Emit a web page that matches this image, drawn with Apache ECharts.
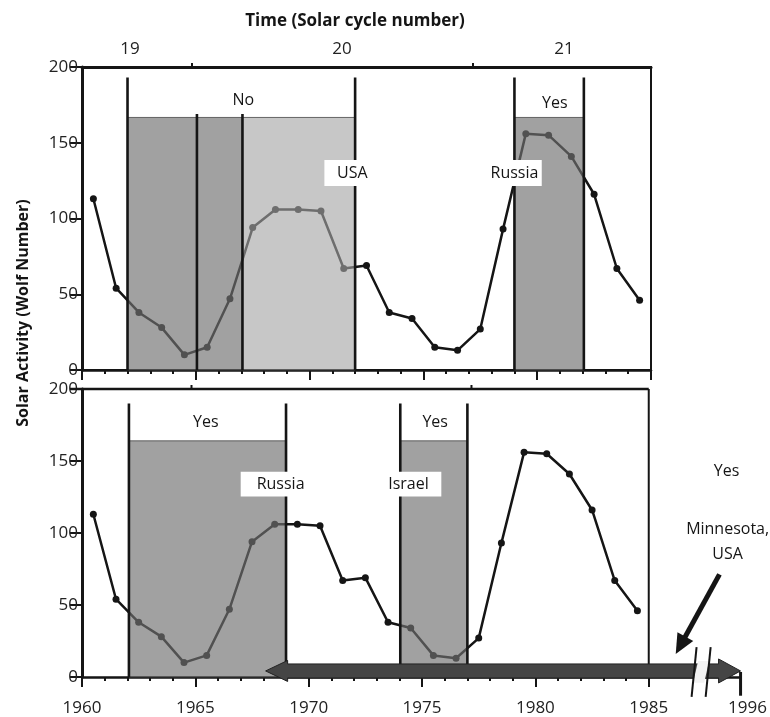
<!DOCTYPE html>
<html>
<head>
<meta charset="utf-8">
<script src="https://cdn.jsdelivr.net/npm/echarts@6/dist/echarts.min.js"></script>
<style>
  html, body { margin: 0; padding: 0; background: #fff; }
  #chart { width: 770px; height: 717px; }
</style>
</head>
<body>
<div id="chart"></div>
<script>
// ---- data ----
const years = [1960.5, 1961.5, 1962.5, 1963.5, 1964.5, 1965.5, 1966.5, 1967.5, 1968.5, 1969.5,
               1970.5, 1971.5, 1972.5, 1973.5, 1974.5, 1975.5, 1976.5, 1977.5, 1978.5, 1979.5,
               1980.5, 1981.5, 1982.5, 1983.5, 1984.5];
const wolf = [113, 54, 38, 28, 10, 15, 47, 94, 106, 106,
              105, 67, 69, 38, 34, 15, 13, 27, 93, 156,
              155, 141, 116, 67, 46];
const majorYears = [1960, 1965, 1970, 1975, 1980, 1985];
const allYears = [1960, 1961, 1962, 1963, 1964, 1965, 1966, 1967, 1968, 1969, 1970, 1971, 1972,
                  1973, 1974, 1975, 1976, 1977, 1978, 1979, 1980, 1981, 1982, 1983, 1984, 1985];
const yTicks = [0, 50, 100, 150, 200];
const cycleNames = ['19', '20', '21'];
const cyclePos = [1962.11, 1971.42, 1981.18];
const cycleBounds = [1964.83, 1977.18];
const BROKEN_END = 1989.05;      // position of the broken-axis end tick
const BROKEN_LABEL = '1996';

// shaded periods: [start, end, top, tone]
const topShades = [[1962.0, 1967.05, 166.7, 'dark'], [1967.05, 1972.0, 166.7, 'light'], [1979.0, 1982.05, 166.7, 'dark']];
const bottomShades = [[1962.07, 1969.0, 164, 'dark'], [1974.04, 1977.0, 164, 'dark']];
// dividers: [x, top]
const topDividers = [[1962.0, 193], [1965.05, 169], [1967.05, 169], [1972.0, 193], [1979.0, 193], [1982.05, 193]];
const bottomDividers = [[1962.07, 190], [1969.0, 190], [1974.04, 190], [1977.0, 190]];
// labels: [text, x, y]
const topLabels = [['No', 1967.09, 178], ['Yes', 1980.77, 176]];
const bottomLabels = [['Yes', 1965.46, 176.5], ['Yes', 1975.58, 176.5]];
// boxed labels: [text, x0, x1, y0, y1, textX]
const topBoxes = [['USA', 1970.65, 1972.76, 121.5, 138.6, 1971.88], ['Russia', 1977.43, 1980.2, 121.5, 138.6, 1979.0]];
const bottomBoxes = [['Russia', 1967.0, 1969.9, 125.3, 142.6, 1968.76], ['Israel', 1973.25, 1975.85, 125.3, 142.6, 1974.4]];
// broken-axis annotation (bottom panel)
const longArrow = [1968.1, BROKEN_END, 4.2];         // from, to, centre value
const breakMarks = [[1987.11, 1986.89], [1987.73, 1987.51]]; // x at top, x at bottom
const breakSpan = [20.8, -13.8];
const pointer = [[1988.12, 71.3], [1986.19, 15.9]];
const sideTexts = [['Yes', 1988.43, 142.6], ['Minnesota,', 1988.48, 102.4], ['USA', 1988.48, 85]];

// ---- styles ----
const FONT = '"Open Sans", "Noto Sans", sans-serif';
const INK = '#151515';
const SHADE = { dark: 'rgba(112,112,112,0.66)', light: 'rgba(165,165,165,0.62)' };

function rectBetween(api, x0, y0, x1, y1) {
  const a = api.coord([x0, y1]);
  const b = api.coord([x1, y0]);
  return { x: a[0], y: a[1], width: b[0] - a[0], height: b[1] - a[1] };
}
function textEl(x, y, text, size, weight) {
  return { type: 'text', x: x, y: y,
    style: { text: text, fill: INK, font: (weight || 'normal') + ' ' + size + 'px ' + FONT,
             align: 'center', verticalAlign: 'middle', textAlign: 'center', textVerticalAlign: 'middle' } };
}

function shadeSeries(shades, xi, yi) {
  return { type: 'custom', xAxisIndex: xi, yAxisIndex: yi, z: 3, silent: true, clip: false,
    data: shades.map(s => [s[0], s[2]]),
    renderItem: function (params, api) {
      const s = shades[params.dataIndex];
      return { type: 'rect', shape: rectBetween(api, s[0], 0, s[1], s[2]),
               style: { fill: SHADE[s[3]], stroke: 'rgba(70,70,70,0.8)', lineWidth: 1 } };
    } };
}
function dividerSeries(divs, xi, yi) {
  return { type: 'custom', xAxisIndex: xi, yAxisIndex: yi, z: 4, silent: true, clip: false,
    data: divs.map(d => [d[0], d[1]]),
    renderItem: function (params, api) {
      const d = divs[params.dataIndex];
      const a = api.coord([d[0], 0]), b = api.coord([d[0], d[1]]);
      return { type: 'line', shape: { x1: a[0], y1: a[1], x2: b[0], y2: b[1] },
               style: { stroke: INK, lineWidth: 2.6 } };
    } };
}
function labelSeries(labels, boxes, xi, yi) {
  return { type: 'custom', xAxisIndex: xi, yAxisIndex: yi, z: 5, silent: true, clip: false,
    data: [[0, 0]],
    renderItem: function (params, api) {
      const children = [];
      labels.forEach(l => { const p = api.coord([l[1], l[2]]); children.push(textEl(p[0], p[1], l[0], 16)); });
      boxes.forEach(b => {
        children.push({ type: 'rect', shape: rectBetween(api, b[1], b[3], b[2], b[4]), style: { fill: '#fff' } });
        const p = api.coord([b[5], (b[3] + b[4]) / 2]);
        children.push(textEl(p[0], p[1], b[0], 16));
      });
      return { type: 'group', children: children };
    } };
}

function bottomExtras() {
  return { type: 'custom', xAxisIndex: 3, yAxisIndex: 1, z: 6, silent: true, clip: false,
    data: [[0, 0]],
    renderItem: function (params, api) {
      const ch = [];
      // panel frame (top and right edge at 1985)
      const tl = api.coord([1960, 200]), tr = api.coord([1985, 200]), br = api.coord([1985, 0]);
      ch.push({ type: 'line', shape: { x1: tl[0] - 12, y1: tl[1], x2: tr[0], y2: tr[1] }, style: { stroke: INK, lineWidth: 2.4 } });
      ch.push({ type: 'line', shape: { x1: tr[0], y1: tr[1], x2: br[0], y2: br[1] }, style: { stroke: INK, lineWidth: 2 } });
      cycleBounds.forEach(c => { const p = api.coord([c, 200]);
        ch.push({ type: 'line', shape: { x1: p[0], y1: p[1], x2: p[0], y2: p[1] - 4 }, style: { stroke: INK, lineWidth: 2 } }); });
      // long double arrow
      const L = api.coord([longArrow[0], longArrow[2]]), R = api.coord([longArrow[1], longArrow[2]]);
      const cy = L[1], sh = 7, hh = 10.5, hl = 22;
      ch.push({ type: 'polygon', shape: { points: [
        [L[0], cy], [L[0] + hl, cy - hh], [L[0] + hl, cy - sh], [R[0] - hl, cy - sh], [R[0] - hl, cy - hh - 1.5],
        [R[0], cy], [R[0] - hl, cy + hh + 1.5], [R[0] - hl, cy + sh], [L[0] + hl, cy + sh], [L[0] + hl, cy + hh]] },
        style: { fill: '#454545', stroke: '#222', lineWidth: 1 } });
      // break marks
      const b0t = api.coord([breakMarks[0][0], breakSpan[0]]), b0b = api.coord([breakMarks[0][1], breakSpan[1]]);
      const b1t = api.coord([breakMarks[1][0], breakSpan[0]]), b1b = api.coord([breakMarks[1][1], breakSpan[1]]);
      ch.push({ type: 'polygon', shape: { points: [[b0t[0] + 1.5, b0t[1] + 14], [b1t[0] - 1.5, b1t[1] + 14], [b1b[0] - 1.5, b1b[1] - 14], [b0b[0] + 1.5, b0b[1] - 14]] },
        style: { fill: '#f2f2f2' } });
      ch.push({ type: 'line', shape: { x1: b0t[0], y1: b0t[1], x2: b0b[0], y2: b0b[1] }, style: { stroke: INK, lineWidth: 2 } });
      ch.push({ type: 'line', shape: { x1: b1t[0], y1: b1t[1], x2: b1b[0], y2: b1b[1] }, style: { stroke: INK, lineWidth: 2 } });
      // end tick at broken axis end
      const et = api.coord([BROKEN_END, 3.5]), eb = api.coord([BROKEN_END, -13]);
      ch.push({ type: 'line', shape: { x1: et[0], y1: et[1], x2: eb[0], y2: eb[1] }, style: { stroke: INK, lineWidth: 3 } });
      // pointer arrow
      const P = api.coord(pointer[0]), T = api.coord(pointer[1]);
      const dx = T[0] - P[0], dy = T[1] - P[1], len = Math.sqrt(dx * dx + dy * dy);
      const ux = dx / len, uy = dy / len, px = -uy, py = ux;
      const hL = 20, hW = 9;
      const Bx = T[0] - ux * hL, By = T[1] - uy * hL;
      ch.push({ type: 'line', shape: { x1: P[0], y1: P[1], x2: Bx + ux * 2, y2: By + uy * 2 }, style: { stroke: INK, lineWidth: 5 } });
      ch.push({ type: 'polygon', shape: { points: [[T[0], T[1]], [Bx + px * hW, By + py * hW], [Bx - px * hW, By - py * hW]] }, style: { fill: INK } });
      // side texts
      sideTexts.forEach(t => { const p = api.coord([t[1], t[2]]); ch.push(textEl(p[0], p[1], t[0], 16)); });
      return { type: 'group', children: ch };
    } };
}

const axisLabelStyle = { fontSize: 17, color: '#222', fontFamily: FONT };

const option = {
  animation: false,
  backgroundColor: '#fff',
  grid: [
    { left: 82, top: 67, width: 569, height: 303, show: true, borderColor: INK, borderWidth: 2, backgroundColor: 'transparent' },
    { left: 82, top: 389, width: 660, height: 289 }
  ],
  xAxis: [
    { gridIndex: 0, type: 'value', position: 'bottom', min: 1960, max: 1985,
      axisLine: { lineStyle: { color: INK, width: 2.5 } },
      axisTick: { customValues: majorYears, length: 10, lineStyle: { color: INK, width: 2 } },
      axisLabel: { show: false }, splitLine: { show: false } },
    { gridIndex: 0, type: 'value', position: 'bottom', min: 1960, max: 1985,
      axisLine: { show: false },
      axisTick: { customValues: allYears, length: 4, lineStyle: { color: INK, width: 2 } },
      axisLabel: { show: false }, splitLine: { show: false } },
    { gridIndex: 0, type: 'value', position: 'top', min: 1960, max: 1985,
      axisLine: { lineStyle: { color: INK, width: 3 } },
      axisTick: { customValues: cycleBounds, length: 4, lineStyle: { color: INK, width: 2 } },
      axisLabel: Object.assign({ customValues: cyclePos, margin: 9,
        formatter: function (v) {
          let best = 0;
          cyclePos.forEach((c, i) => { if (Math.abs(c - v) < Math.abs(cyclePos[best] - v)) best = i; });
          return cycleNames[best];
        } }, axisLabelStyle),
      splitLine: { show: false } },
    { gridIndex: 1, type: 'value', position: 'bottom', min: 1960, max: BROKEN_END,
      axisLine: { lineStyle: { color: INK, width: 2.5 } },
      axisTick: { customValues: majorYears, length: 10, lineStyle: { color: INK, width: 2 } },
      axisLabel: Object.assign({ customValues: majorYears.concat([BROKEN_END]), margin: 23,
        formatter: function (v) { return v > 1985.5 ? '{e|' + BROKEN_LABEL + '}' : String(v); },
        rich: { e: { fontSize: 17, color: '#222', fontFamily: FONT, padding: [0, 0, 0, 14] } } }, axisLabelStyle),
      splitLine: { show: false } },
    { gridIndex: 1, type: 'value', position: 'bottom', min: 1960, max: BROKEN_END,
      axisLine: { show: false },
      axisTick: { customValues: allYears, length: 4, lineStyle: { color: INK, width: 2 } },
      axisLabel: { show: false }, splitLine: { show: false } }
  ],
  yAxis: [
    { gridIndex: 0, type: 'value', min: 0, max: 200, interval: 50,
      axisLine: { show: true, lineStyle: { color: INK, width: 3 } },
      axisTick: { show: true, length: 12, lineStyle: { color: INK, width: 2 } },
      axisLabel: Object.assign({ customValues: yTicks, margin: 4 }, axisLabelStyle),
      splitLine: { show: false } },
    { gridIndex: 1, type: 'value', min: 0, max: 200, interval: 50,
      axisLine: { show: true, lineStyle: { color: INK, width: 3 } },
      axisTick: { show: true, length: 12, lineStyle: { color: INK, width: 2 } },
      axisLabel: Object.assign({ customValues: yTicks, margin: 4 }, axisLabelStyle),
      splitLine: { show: false } }
  ],
  graphic: [
    { type: 'text', x: 355, y: 21, style: { text: 'Time (Solar cycle number)', fill: INK,
      font: 'bold 17px ' + FONT, textAlign: 'center', textVerticalAlign: 'middle', align: 'center', verticalAlign: 'middle' } },
    { type: 'text', x: 23, y: 313, rotation: Math.PI / 2, style: { text: 'Solar Activity (Wolf Number)', fill: INK,
      font: 'bold 16px ' + FONT, textAlign: 'center', textVerticalAlign: 'middle', align: 'center', verticalAlign: 'middle' } }
  ],
  series: [
    { type: 'line', xAxisIndex: 0, yAxisIndex: 0, z: 2, data: years.map((y, i) => [y, wolf[i]]),
      symbol: 'circle', symbolSize: 7, lineStyle: { color: INK, width: 2.5 }, itemStyle: { color: INK } },
    { type: 'line', xAxisIndex: 3, yAxisIndex: 1, z: 2, data: years.map((y, i) => [y, wolf[i]]),
      symbol: 'circle', symbolSize: 7, lineStyle: { color: INK, width: 2.5 }, itemStyle: { color: INK } },
    shadeSeries(topShades, 0, 0),
    shadeSeries(bottomShades, 3, 1),
    dividerSeries(topDividers, 0, 0),
    dividerSeries(bottomDividers, 3, 1),
    labelSeries(topLabels, topBoxes, 0, 0),
    labelSeries(bottomLabels, bottomBoxes, 3, 1),
    bottomExtras()
  ]
};

const chart = echarts.init(document.getElementById('chart'), null, { renderer: 'canvas' });
chart.setOption(option);
</script>
</body>
</html>
